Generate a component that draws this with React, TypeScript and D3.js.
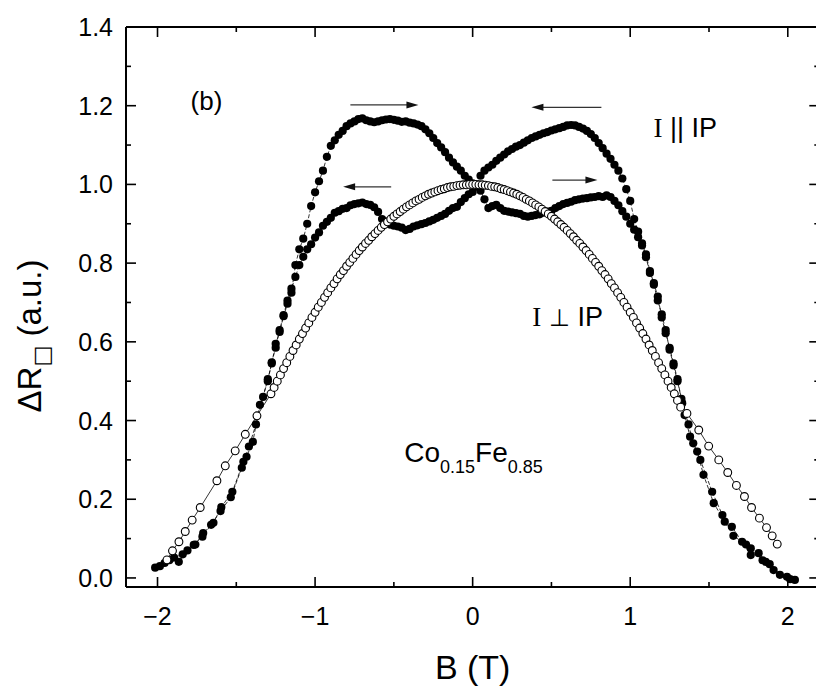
import React from 'react';
import * as d3 from 'd3';

// ---------- axis ticks ----------
const xMajorTicks = [-2, -1, 0, 1, 2];
const xTickLabels = ['\u22122', '\u22121', '0', '1', '2'];
const xMinorTicks = [-1.5, -0.5, 0.5, 1.5];
const yMajorTicks = [0, 0.2, 0.4, 0.6, 0.8, 1.0, 1.2, 1.4];
const yTickLabels = ['0.0', '0.2', '0.4', '0.6', '0.8', '1.0', '1.2', '1.4'];
const yMinorTicks = [0.1, 0.3, 0.5, 0.7, 0.9, 1.1, 1.3];

// ---------- data: I || IP, field sweep upward (B, dR) ----------
const parallelSweepUp: [number, number][] = [
  [-2.015, .026], [-1.955, .038], [-1.895, .052], [-1.84, .060], [-1.77, .084], [-1.715, .105], [-1.66, .135],
  [-1.60, .170], [-1.535, .205], [-1.465, .280], [-1.42, .334], [-1.375, .390], [-1.33, .460],
  [-1.3, .505], [-1.275, .545], [-1.25, .595], [-1.225, .625], [-1.2, .665], [-1.175, .697], [-1.15, .725],
  [-1.125, .795], [-1.1, .835], [-1.075, .862], [-1.05, .9], [-1.025, .945], [-1, .98], [-.975, 1.008],
  [-.95, 1.035], [-.925, 1.07], [-.9, 1.098], [-.875, 1.112], [-.85, 1.126], [-.825, 1.136], [-.8, 1.148],
  [-.775, 1.155], [-.75, 1.16], [-.725, 1.166], [-.7, 1.168], [-.675, 1.163], [-.65, 1.16], [-.625, 1.158],
  [-.6, 1.16], [-.575, 1.163], [-.55, 1.165], [-.525, 1.166], [-.5, 1.164], [-.475, 1.162], [-.45, 1.159],
  [-.425, 1.16], [-.4, 1.157], [-.375, 1.155], [-.35, 1.152], [-.325, 1.148], [-.3, 1.14], [-.275, 1.13],
  [-.25, 1.118], [-.225, 1.105], [-.2, 1.094], [-.175, 1.082], [-.15, 1.068], [-.125, 1.056], [-.1, 1.045],
  [-.075, 1.035], [-.05, 1.022], [-.025, 1.012], [0, 1.003], [.025, .995], [.05, .984], [.075, .962],
  [.1, .94], [.125, .945], [.15, .948], [.175, .94], [.2, .933], [.225, .931], [.25, .929], [.275, .927],
  [.3, .925], [.325, .92], [.35, .918], [.375, .92], [.4, .922], [.425, .924], [.45, .928], [.475, .931],
  [.5, .933], [.525, .94], [.55, .945], [.575, .95], [.6, .953], [.625, .956], [.65, .96], [.675, .962],
  [.7, .964], [.725, .965], [.75, .967], [.775, .968], [.8, .97], [.825, .968], [.85, .972], [.875, .968],
  [.9, .958], [.925, .947], [.95, .932], [.975, .918], [1, .9], [1.025, .885], [1.05, .866], [1.075, .845],
  [1.1, .815], [1.125, .775], [1.15, .745], [1.175, .705], [1.2, .67], [1.225, .63], [1.25, .58],
  [1.275, .54], [1.3, .5],
  [1.325, .455], [1.37, .390], [1.40, .342], [1.445, .300], [1.52, .219], [1.585, .160], [1.645, .130],
  [1.71, .092], [1.765, .058], [1.815, .063], [1.86, .041], [1.91, .020], [1.995, .003], [2.045, -.005],
];

// ---------- data: I || IP, field sweep downward (B, dR) ----------
const parallelSweepDown: [number, number][] = [
  [-1.985, .030], [-1.925, .045], [-1.865, .041], [-1.81, .070], [-1.76, .085], [-1.71, .114], [-1.645, .140],
  [-1.595, .180], [-1.525, .219], [-1.455, .295], [-1.435, .308], [-1.395, .346], [-1.35, .440],
  [-1.3, .5], [-1.275, .548], [-1.25, .585], [-1.225, .63], [-1.2, .668], [-1.175, .705], [-1.15, .735],
  [-1.125, .765], [-1.1, .795], [-1.075, .816], [-1.05, .835], [-1.025, .848], [-1, .865], [-.975, .878],
  [-.95, .895], [-.925, .905], [-.9, .915], [-.875, .928], [-.85, .932], [-.825, .938], [-.8, .94],
  [-.775, .947], [-.75, .95], [-.725, .952], [-.7, .954], [-.675, .95], [-.65, .948], [-.625, .942],
  [-.6, .93], [-.575, .912], [-.55, .902], [-.525, .898], [-.5, .895], [-.475, .893], [-.45, .89],
  [-.425, .884], [-.4, .887], [-.375, .893], [-.35, .896], [-.325, .899], [-.3, .902], [-.275, .906],
  [-.25, .91], [-.225, .915], [-.2, .92], [-.175, .925], [-.15, .933], [-.125, .94], [-.1, .943],
  [-.075, .955], [-.05, .965], [-.025, .975], [0, .981], [.025, .995], [.05, 1.022], [.075, 1.035],
  [.1, 1.043], [.125, 1.05], [.15, 1.06], [.175, 1.068], [.2, 1.076], [.225, 1.084], [.25, 1.09],
  [.275, 1.096], [.3, 1.1], [.325, 1.106], [.35, 1.112], [.375, 1.118], [.4, 1.122], [.425, 1.126],
  [.45, 1.13], [.475, 1.133], [.5, 1.137], [.525, 1.14], [.55, 1.143], [.575, 1.146], [.6, 1.15],
  [.625, 1.151], [.65, 1.15], [.675, 1.146], [.7, 1.142], [.725, 1.136], [.75, 1.128], [.775, 1.118],
  [.8, 1.105], [.825, 1.092], [.85, 1.078], [.875, 1.065], [.9, 1.05], [.925, 1.035], [.95, 1.015],
  [.975, .988], [1, .958], [1.025, .912], [1.05, .88], [1.075, .85], [1.1, .822], [1.125, .78],
  [1.15, .749], [1.175, .715], [1.2, .662], [1.225, .622], [1.25, .585], [1.275, .545], [1.3, .505],
  [1.33, .444], [1.345, .414], [1.38, .359], [1.425, .321], [1.465, .262], [1.53, .190], [1.60, .143],
  [1.655, .107], [1.735, .085], [1.765, .075], [1.84, .045], [1.885, .035], [1.95, .008], [2.015, -.003],
];

// ---------- data: I ⊥ IP (B, dR) ----------
const perpendicular: [number, number][] = [
  [-1.94, .046], [-1.905, .069], [-1.864, .092], [-1.824, .118], [-1.78, .147], [-1.729, .179],
  [-1.623, .247], [-1.57, .285], [-1.507, .323], [-1.443, .365], [-1.369, .412],
  [-1.28, .468], [-1.26, .484], [-1.24, .5], [-1.22, .516], [-1.2, .532], [-1.18, .547], [-1.16, .563],
  [-1.14, .578], [-1.12, .592], [-1.1, .607], [-1.08, .621], [-1.06, .635], [-1.04, .648], [-1.02, .662],
  [-1, .675], [-.98, .688], [-.96, .7], [-.94, .713], [-.92, .725], [-.9, .737], [-.88, .748], [-.86, .76],
  [-.84, .771], [-.82, .781], [-.8, .792], [-.78, .802], [-.76, .812], [-.74, .822], [-.72, .832],
  [-.7, .841], [-.68, .85], [-.66, .858], [-.64, .867], [-.62, .875], [-.6, .883], [-.58, .891],
  [-.56, .898], [-.54, .905], [-.52, .912], [-.5, .919], [-.48, .925], [-.46, .931], [-.44, .937],
  [-.42, .943], [-.4, .948], [-.38, .953], [-.36, .958], [-.34, .962], [-.32, .967], [-.3, .971],
  [-.28, .975], [-.26, .978], [-.24, .981], [-.22, .984], [-.2, .987], [-.18, .989], [-.16, .992],
  [-.14, .994], [-.12, .995], [-.1, .997], [-.08, .998], [-.06, .999], [-.04, .999], [-.02, 1.0],
  [0, 1.0], [.02, 1.0], [.04, .999], [.06, .999], [.08, .998], [.1, .997], [.12, .995], [.14, .994],
  [.16, .992], [.18, .989], [.2, .987], [.22, .984], [.24, .981], [.26, .978], [.28, .975], [.3, .971],
  [.32, .967], [.34, .962], [.36, .958], [.38, .953], [.4, .948], [.42, .943], [.44, .937], [.46, .931],
  [.48, .925], [.5, .919], [.52, .912], [.54, .905], [.56, .898], [.58, .891], [.6, .883], [.62, .875],
  [.64, .867], [.66, .858], [.68, .85], [.7, .841], [.72, .832], [.74, .822], [.76, .812], [.78, .802],
  [.8, .792], [.82, .781], [.84, .771], [.86, .76], [.88, .748], [.9, .737], [.92, .725], [.94, .713],
  [.96, .7], [.98, .688], [1, .675], [1.02, .662], [1.04, .648], [1.06, .635], [1.08, .621], [1.1, .607],
  [1.12, .592], [1.14, .578], [1.16, .563], [1.18, .547], [1.2, .532], [1.22, .516], [1.24, .5],
  [1.26, .484], [1.28, .468], [1.3, .451], [1.32, .434],
  [1.36, .418], [1.435, .376], [1.498, .335], [1.562, .3], [1.619, .268], [1.674, .235], [1.725, .207],
  [1.77, .179], [1.82, .152], [1.865, .128], [1.901, .107], [1.933, .086],
];

// ---------- annotations (data coordinates) ----------
const sweepArrows: { from: number; to: number; level: number }[] = [
  { from: -0.776, to: -0.344, level: 1.202 },
  { from: -0.517, to: -0.822, level: 0.994 },
  { from: 0.817, to: 0.373, level: 1.196 },
  { from: 0.506, to: 0.792, level: 1.011 },
];

const SANS = 'Liberation Sans, Arial, Helvetica, sans-serif';
const SERIF = 'Liberation Serif, Times New Roman, serif';

export default function App() {
  const W = 816;
  const H = 693;
  const x = d3.scaleLinear().domain([-2.2, 2.2]).range([126, 819.3]);
  const y = d3.scaleLinear().domain([-0.023, 1.4]).range([587, 27]);
  const left = x.range()[0];
  const right = x.range()[1];
  const bottom = y.range()[0];
  const top = y.range()[1];

  const line = d3
    .line<[number, number]>()
    .x((d) => x(d[0]))
    .y((d) => y(d[1]));

  const major = 10;
  const minor = 5;

  return (
    <svg
      width={W}
      height={H}
      style={{ position: 'absolute', left: 0, top: 0, background: '#fff' }}
    >
      <rect x={0} y={0} width={W} height={H} fill="#fff" />

      {/* connecting lines */}
      <path d={line(parallelSweepUp) || ''} fill="none" stroke="#000" strokeWidth={0.8} strokeDasharray="4,2" />
      <path d={line(parallelSweepDown) || ''} fill="none" stroke="#000" strokeWidth={0.8} strokeDasharray="4,2" />
      <path d={line(perpendicular) || ''} fill="none" stroke="#000" strokeWidth={0.8} />

      {/* filled symbols */}
      {parallelSweepUp.map((d, i) => (
        <circle key={'u' + i} cx={x(d[0])} cy={y(d[1])} r={4.1} fill="#000" />
      ))}
      {parallelSweepDown.map((d, i) => (
        <circle key={'d' + i} cx={x(d[0])} cy={y(d[1])} r={4.1} fill="#000" />
      ))}
      {/* open symbols */}
      {perpendicular.map((d, i) => (
        <circle key={'p' + i} cx={x(d[0])} cy={y(d[1])} r={3.9} fill="#fff" stroke="#000" strokeWidth={1.1} />
      ))}

      {/* frame */}
      <g stroke="#000" strokeWidth={2} fill="none">
        <line x1={left} y1={bottom} x2={right} y2={bottom} />
        <line x1={left} y1={top} x2={right} y2={top} />
        <line x1={left} y1={top} x2={left} y2={bottom} />
        <line x1={right} y1={top} x2={right} y2={bottom} />
      </g>

      {/* ticks */}
      <g stroke="#000" strokeWidth={1.6}>
        {xMajorTicks.map((t) => (
          <g key={'xt' + t}>
            <line x1={x(t)} x2={x(t)} y1={bottom} y2={bottom - major} />
            <line x1={x(t)} x2={x(t)} y1={top} y2={top + major} />
          </g>
        ))}
        {xMinorTicks.map((t) => (
          <g key={'xm' + t}>
            <line x1={x(t)} x2={x(t)} y1={bottom} y2={bottom - minor} />
            <line x1={x(t)} x2={x(t)} y1={top} y2={top + minor} />
          </g>
        ))}
        {yMajorTicks.map((t) => (
          <g key={'yt' + t}>
            <line x1={left} x2={left + major} y1={y(t)} y2={y(t)} />
            <line x1={right} x2={right - major} y1={y(t)} y2={y(t)} />
          </g>
        ))}
        {yMinorTicks.map((t) => (
          <g key={'ym' + t}>
            <line x1={left} x2={left + minor} y1={y(t)} y2={y(t)} />
            <line x1={right} x2={right - minor} y1={y(t)} y2={y(t)} />
          </g>
        ))}
      </g>

      {/* tick labels */}
      <g fontFamily={SANS} fontSize={25} fill="#000">
        {xMajorTicks.map((t, i) => (
          <text key={'xl' + t} x={x(t)} y={625} textAnchor="middle">
            {xTickLabels[i]}
          </text>
        ))}
        {yMajorTicks.map((t, i) => (
          <text key={'yl' + t} x={113} y={y(t) + 9} textAnchor="end">
            {yTickLabels[i]}
          </text>
        ))}
      </g>

      {/* axis titles */}
      <text x={x(0)} y={679} textAnchor="middle" fontFamily={SANS} fontSize={34}>
        B (T)
      </text>
      <text
        transform={`translate(41,336) rotate(-90)`}
        textAnchor="middle"
        fontFamily={SANS}
        fontSize={33}
      >
        ΔR
        <tspan fontFamily="DejaVu Sans, sans-serif" fontSize={22} dy={8}>□</tspan>
        <tspan dy={-8}> (a.u.)</tspan>
      </text>

      {/* arrows */}
      {sweepArrows.map((a, i) => {
        const x1 = x(a.from);
        const x2 = x(a.to);
        const yy = y(a.level);
        const dir = x2 > x1 ? 1 : -1;
        return (
          <g key={'a' + i}>
            <line x1={x1} y1={yy} x2={x2 - dir * 8} y2={yy} stroke="#333" strokeWidth={1.2} />
            <polygon
              points={`${x2},${yy} ${x2 - dir * 12},${yy - 3.5} ${x2 - dir * 12},${yy + 3.5}`}
              fill="#111"
            />
          </g>
        );
      })}

      {/* annotations */}
      <text x={x(-1.79)} y={110} fontFamily={SANS} fontSize={26}>(b)</text>

      <text x={x(1.147)} y={y(1.12)} fontFamily={SANS} fontSize={27}>
        <tspan fontFamily={SERIF}>I</tspan>
        <tspan> || IP</tspan>
      </text>

      <text x={x(0.379)} y={y(0.64)} fontFamily={SANS} fontSize={27}>
        <tspan fontFamily={SERIF}>I</tspan>
        <tspan fontFamily="DejaVu Sans, sans-serif" fontSize={24}> ⊥ </tspan>
        <tspan>IP</tspan>
      </text>

      <text x={x(-0.434)} y={y(0.295)} fontFamily={SANS} fontSize={28}>
        Co
        <tspan fontSize={18} dy={11}>0.15</tspan>
        <tspan dy={-11}>Fe</tspan>
        <tspan fontSize={18} dy={11}>0.85</tspan>
      </text>
    </svg>
  );
}
